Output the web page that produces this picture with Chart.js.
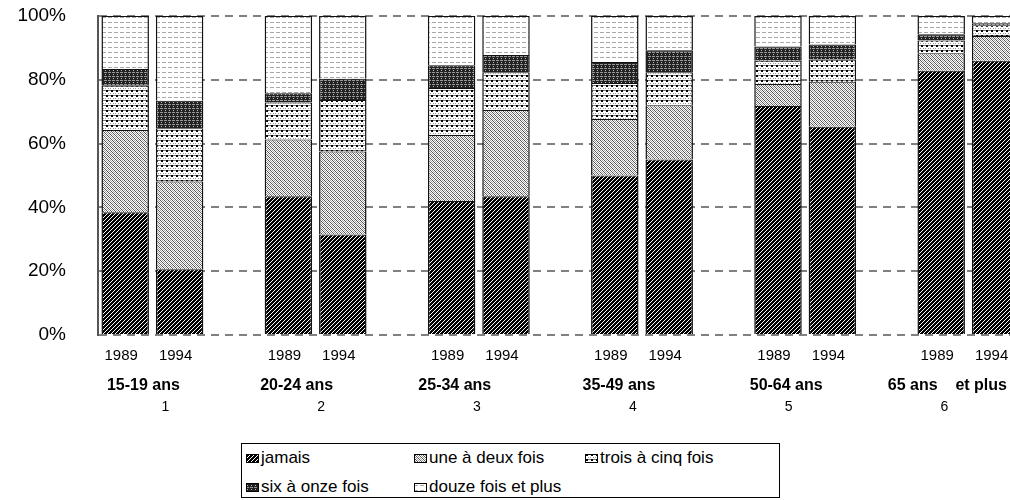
<!DOCTYPE html>
<html lang="fr">
<head>
<meta charset="utf-8">
<title>Fréquence selon l'âge, 1989 et 1994</title>
<script src="https://cdn.jsdelivr.net/npm/chart.js@4.4.1/dist/chart.umd.min.js"></script>
<style>
  html, body { margin: 0; padding: 0; background: #fff; width: 1010px; height: 500px; overflow: hidden; }
  #wrap { position: relative; width: 1010px; height: 500px; overflow: hidden; }
  #myChart { position: absolute; left: 0; top: 0; }
  .legend { position: absolute; left: 241px; top: 443px; width: 539px; height: 55px; box-sizing: border-box;
            border: 1px solid #000; font-family: "Liberation Sans", Arial, sans-serif; font-size: 17px; color: #000; }
  .legend .item { position: absolute; height: 20px; display: flex; align-items: center; white-space: nowrap; }
  .legend canvas { margin-right: 2px; }
</style>
</head>
<body>
<div id="wrap">
  <canvas id="myChart" width="1080" height="430"></canvas>
  <div class="legend" id="legend"></div>
</div>
<script>
// data (percent of each bar)
const groups = ["15-19 ans", "20-24 ans", "25-34 ans", "35-49 ans", "50-64 ans", "65 ans    et plus"];
const groupNumbers = ["1", "2", "3", "4", "5", "6"];
const years = ["1989", "1994"];
const yTicks = [0, 20, 40, 60, 80, 100];

const seriesNames = ["jamais", "une à deux fois", "trois à cinq fois", "six à onze fois", "douze fois et plus"];
const jamais = [38.5, 20.6, 43.5, 31.5, 42, 43.5, 50, 55, 71.8, 65.3, 82.8, 86];
const uneADeux = [25.8, 27.5, 17.8, 26, 20.7, 27, 17.7, 17, 6.9, 14.1, 5.5, 7.7];
const troisACinq = [13.8, 16.7, 11.6, 16.2, 14.7, 11.9, 11.3, 10.4, 7.3, 7, 4, 3.4];
const sixAOnze = [5.3, 8.6, 2.9, 6.6, 7.2, 5.4, 6.6, 6.9, 4.4, 4.7, 2, 0.6];
const douzeEtPlus = [16.6, 26.6, 24.2, 19.7, 15.4, 12.2, 14.4, 10.7, 9.6, 8.9, 5.7, 2.3];

const FONT = '"Liberation Sans", Arial, sans-serif';

// each group takes 3 slots: 1989, 1994 and an empty gap
const labels = [];
groups.forEach(() => { labels.push(years[0], years[1], ""); });

const spread = (values) => {
  const out = [];
  for (let i = 0; i < groups.length; i++) {
    out.push(values[i * 2], values[i * 2 + 1], null);
  }
  return out;
};

// small pixel tiles that mimic the black & white hatchings
const makeTile = (w, h, paint) => {
  const c = document.createElement("canvas");
  c.width = w; c.height = h;
  const t = c.getContext("2d");
  for (let y = 0; y < h; y++) {
    for (let x = 0; x < w; x++) {
      const col = paint(x, y);
      if (col) { t.fillStyle = col; t.fillRect(x, y, 1, 1); }
    }
  }
  return c;
};

const tiles = [
  // jamais: black with white diagonal strokes
  makeTile(4, 4, (x, y) => ((x + y) % 4 === 0 ? "#fff" : "#000")),
  // une à deux fois: grey grain
  makeTile(4, 4, (x, y) => {
    if ((x - y + 8) % 4 === 0) return "#555";
    if ((x + y) % 2 === 0) return "#a0a0a0";
    return "#fff";
  }),
  // trois à cinq fois: white with dark dots on grey rows
  makeTile(5, 5, (x, y) => {
    if ((x === 1 || x === 2) && y <= 1) return "#000";
    if (y === 0) return "#777";
    if ((x === 0 || x === 3) && y === 3) return "#999";
    return "#fff";
  }),
  // six à onze fois: dark grey grid
  makeTile(4, 4, (x, y) => {
    if (y === 0 && x !== 3) return "#999";
    if (x === 1 && y === 2) return "#bbb";
    return "#222";
  }),
  // douze fois et plus: white with grey dashes
  makeTile(6, 5, (x, y) => ((y === 2 && x < 4) ? "#a8a8a8" : "#fff"))
];

const ctx = document.getElementById("myChart").getContext("2d");
const patterns = tiles.map((t) => ctx.createPattern(t, "repeat"));

const seriesValues = [jamais, uneADeux, troisACinq, sixAOnze, douzeEtPlus];
const datasets = seriesNames.map((name, i) => ({
  label: name,
  data: spread(seriesValues[i]),
  backgroundColor: patterns[i],
  borderColor: "#111",
  borderWidth: { top: 1, left: 1.5, right: 1.5, bottom: 0 },
  borderSkipped: false,
  barPercentage: 0.873,
  categoryPercentage: 1
}));

// bold age groups and group numbers under the years
const groupShift = [-9, -19, -24, -23, -19, -21];
const groupLabels = {
  id: "groupLabels",
  afterDraw(chart) {
    const c = chart.ctx;
    const x = chart.scales.x;
    c.save();
    c.fillStyle = "#000";
    c.textAlign = "center";
    c.textBaseline = "middle";
    groups.forEach((g, i) => {
      const mid = (x.getPixelForValue(i * 3) + x.getPixelForValue(i * 3 + 1)) / 2;
      c.font = "bold 16px " + FONT;
      c.fillText(g, mid + groupShift[i], 386);
      c.font = "14px " + FONT;
      c.fillText(groupNumbers[i], mid + 13 - 7.4 * i, 407);
    });
    c.restore();
  }
};

const myChart = new Chart(ctx, {
  type: "bar",
  data: { labels: labels, datasets: datasets },
  options: {
    responsive: false,
    animation: false,
    layout: { padding: { left: 0, right: 2.8, top: 16, bottom: 0 } },
    plugins: { legend: { display: false }, tooltip: { enabled: false } },
    scales: {
      x: {
        stacked: true,
        grid: { display: false, drawTicks: false },
        border: { display: false },
        ticks: { color: "#000", font: { family: FONT, size: 15 }, padding: 12, labelOffset: -4, maxRotation: 0, autoSkip: false },
        afterFit: (scale) => { scale.height = 95; }
      },
      y: {
        stacked: true,
        min: 0,
        max: 100,
        // invisible tick marks push the labels away from the axis
        grid: { color: "#808080", lineWidth: 2, drawTicks: true, tickLength: 32, tickColor: "rgba(0,0,0,0)" },
        border: { display: true, color: "#555", width: 2, dash: [8, 6] },
        afterBuildTicks: (scale) => { scale.ticks = yTicks.map((v) => ({ value: v })); },
        ticks: {
          color: "#000",
          font: { family: FONT, size: 19 },
          padding: 0,
          callback: (v) => v + "%"
        },
        afterFit: (scale) => { scale.width = 98; }
      }
    }
  },
  plugins: [groupLabels]
});

// legend in a framed box, three columns
const legendBox = document.getElementById("legend");
const legendCols = [4, 172, 343];
const legendRows = [4, 33];
seriesNames.forEach((name, i) => {
  const item = document.createElement("div");
  item.className = "item";
  item.style.left = legendCols[i % 3] + "px";
  item.style.top = legendRows[Math.floor(i / 3)] + "px";
  const sw = document.createElement("canvas");
  sw.width = 13; sw.height = 9;
  const s = sw.getContext("2d");
  s.fillStyle = s.createPattern(tiles[i], "repeat");
  s.fillRect(0, 0, 13, 9);
  s.strokeStyle = "#000";
  s.lineWidth = 1;
  s.strokeRect(0.5, 0.5, 12, 8);
  item.appendChild(sw);
  item.appendChild(document.createTextNode(name));
  legendBox.appendChild(item);
});
</script>
</body>
</html>
